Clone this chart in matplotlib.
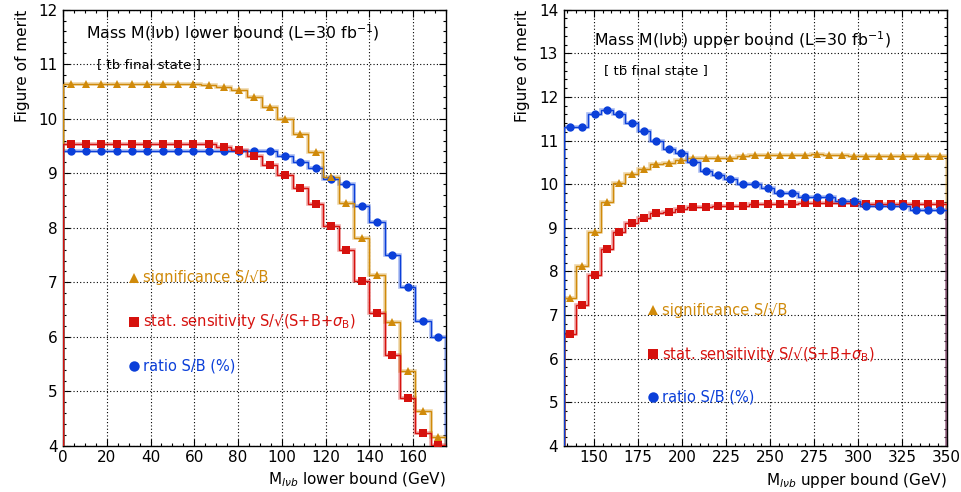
import numpy as np
import matplotlib
matplotlib.use('Agg')
import matplotlib.pyplot as plt
from matplotlib.ticker import MultipleLocator

plt.rcParams['font.family'] = ['DejaVu Sans']
plt.rcParams['mathtext.fontset'] = 'dejavusans'

ORANGE = '#d08a0a'
RED = '#d6120e'
BLUE = '#0b3fd9'

# left panel: lower bound on M(lvb), bins of 7 GeV from 0 to 175
edges_lo = np.arange(0, 176, 7)
sig_lo = [10.64, 10.64, 10.64, 10.64, 10.64, 10.64, 10.64, 10.64, 10.64, 10.62,
          10.58, 10.53, 10.40, 10.22, 10.00, 9.72, 9.39, 8.94, 8.46, 7.81,
          7.13, 6.27, 5.38, 4.65, 4.16]
sens_lo = [9.54, 9.54, 9.54, 9.54, 9.54, 9.54, 9.54, 9.54, 9.54, 9.53,
           9.48, 9.43, 9.32, 9.16, 8.96, 8.73, 8.43, 8.03, 7.60, 7.03,
           6.43, 5.66, 4.88, 4.24, 4.01]
ratio_lo = [9.41, 9.41, 9.41, 9.41, 9.41, 9.41, 9.41, 9.41, 9.41, 9.41,
            9.41, 9.41, 9.41, 9.41, 9.31, 9.20, 9.09, 8.90, 8.81, 8.40,
            8.10, 7.51, 6.91, 6.30, 6.00]

# right panel: upper bound on M(lvb), bins of 7 GeV from 133 to 350
edges_hi = np.arange(133, 351, 7)
sig_hi = [7.40, 8.12, 8.91, 9.60, 10.02, 10.24, 10.35, 10.46, 10.49, 10.56,
          10.60, 10.60, 10.60, 10.60, 10.64, 10.66, 10.66, 10.66, 10.66, 10.67,
          10.68, 10.67, 10.66, 10.65, 10.65, 10.65, 10.65, 10.65, 10.65, 10.65,
          10.65]
sens_hi = [6.57, 7.22, 7.92, 8.52, 8.91, 9.12, 9.23, 9.33, 9.37, 9.44,
           9.47, 9.48, 9.49, 9.49, 9.51, 9.54, 9.55, 9.55, 9.55, 9.57,
           9.56, 9.56, 9.56, 9.56, 9.55, 9.55, 9.55, 9.55, 9.55, 9.55,
           9.55]
ratio_hi = [11.30, 11.30, 11.61, 11.71, 11.61, 11.40, 11.21, 11.00, 10.81, 10.71,
            10.50, 10.31, 10.21, 10.11, 10.00, 10.00, 9.91, 9.80, 9.80, 9.71,
            9.71, 9.71, 9.61, 9.61, 9.51, 9.51, 9.51, 9.51, 9.41, 9.41,
            9.41]

LABELS = ['significance S/\u221aB',
          'stat. sensitivity S/\u221a(S+B+$\\sigma_{\\rm B}$)',
          'ratio S/B (%)']


def draw_hist(ax, edges, values, color, marker, ms, ymin):
    centers = (edges[:-1] + edges[1:]) / 2
    ax.stairs(values, edges, baseline=ymin, color=color, lw=2.6, alpha=0.35, zorder=2)
    ax.stairs(values, edges, baseline=ymin, color=color, lw=1.0, zorder=3)
    ax.plot(centers, values, ls='none', marker=marker, ms=ms, color=color,
            markeredgewidth=0, zorder=4)


def style_axes(ax, major_x, minor_x):
    ax.xaxis.set_major_locator(MultipleLocator(major_x))
    ax.xaxis.set_minor_locator(MultipleLocator(minor_x))
    ax.yaxis.set_major_locator(MultipleLocator(1))
    ax.yaxis.set_minor_locator(MultipleLocator(0.2))
    ax.tick_params(which='both', direction='in', top=True, right=True, labelsize=11)
    ax.tick_params(which='major', length=5, width=0.8)
    ax.tick_params(which='minor', length=2.5, width=0.8)
    ax.tick_params(axis='x', pad=3)
    ax.tick_params(axis='y', pad=4)
    ax.grid(True, which='major', ls=(0, (1, 2)), color='black', lw=0.8)
    ax.set_axisbelow(True)
    for s in ax.spines.values():
        s.set_linewidth(1.0)
    ax.set_ylabel('Figure of merit', fontsize=11, loc='top', labelpad=6)


def legend_texts(ax, x, ys, fs=10.5):
    markers = [('^', ORANGE, 7.5), ('s', RED, 7), ('o', BLUE, 7.5)]
    dx = (ax.get_xlim()[1] - ax.get_xlim()[0]) * 0.022
    for (m, c, ms), y, lab in zip(markers, ys, LABELS):
        ax.plot([x], [y], marker=m, color=c, ms=ms, ls='none', markeredgewidth=0, zorder=5)
        ax.text(x + dx, y, lab, color=c, fontsize=fs, va='center', ha='left', zorder=5)


fig = plt.figure(figsize=(9.62, 4.92), dpi=100)

# left panel
ax1 = fig.add_axes([0.0655, 0.0935, 0.398, 0.887])
ax1.set_xlim(0, 175)
ax1.set_ylim(4, 12)
style_axes(ax1, 20, 5)
draw_hist(ax1, edges_lo, ratio_lo, BLUE, 'o', 6, 4)
draw_hist(ax1, edges_lo, sig_lo, ORANGE, '^', 6, 4)
draw_hist(ax1, edges_lo, sens_lo, RED, 's', 5.5, 4)
ax1.set_xlabel(r'M$_{l\nu b}$ lower bound (GeV)', fontsize=11, loc='right', labelpad=4)
ax1.text(10.5, 11.57, r'Mass M(l$\nu$b) lower bound (L=30 fb$^{-1}$)', fontsize=11.3, va='center')
ax1.text(15.5, 11.0, '[ t\u0304b final state ]', fontsize=9.5, va='center')
legend_texts(ax1, 32.6, [7.08, 6.28, 5.47])

# right panel
ax2 = fig.add_axes([0.586, 0.0935, 0.398, 0.887])
ax2.set_xlim(133, 350)
ax2.set_ylim(4, 14)
style_axes(ax2, 25, 5)
draw_hist(ax2, edges_hi, sig_hi, ORANGE, '^', 6, 4)
draw_hist(ax2, edges_hi, sens_hi, RED, 's', 5.5, 4)
draw_hist(ax2, edges_hi, ratio_hi, BLUE, 'o', 6, 4)
ax2.set_xlabel(r'M$_{l\nu b}$ upper bound (GeV)', fontsize=11, loc='right', labelpad=4)
ax2.text(150, 13.3, r'Mass M(l$\nu$b) upper bound (L=30 fb$^{-1}$)', fontsize=11.3, va='center')
ax2.text(155.7, 12.6, '[ tb\u0304 final state ]', fontsize=9.5, va='center')
legend_texts(ax2, 183.8, [7.11, 6.1, 5.12])

fig.savefig('out.png', dpi=100)
